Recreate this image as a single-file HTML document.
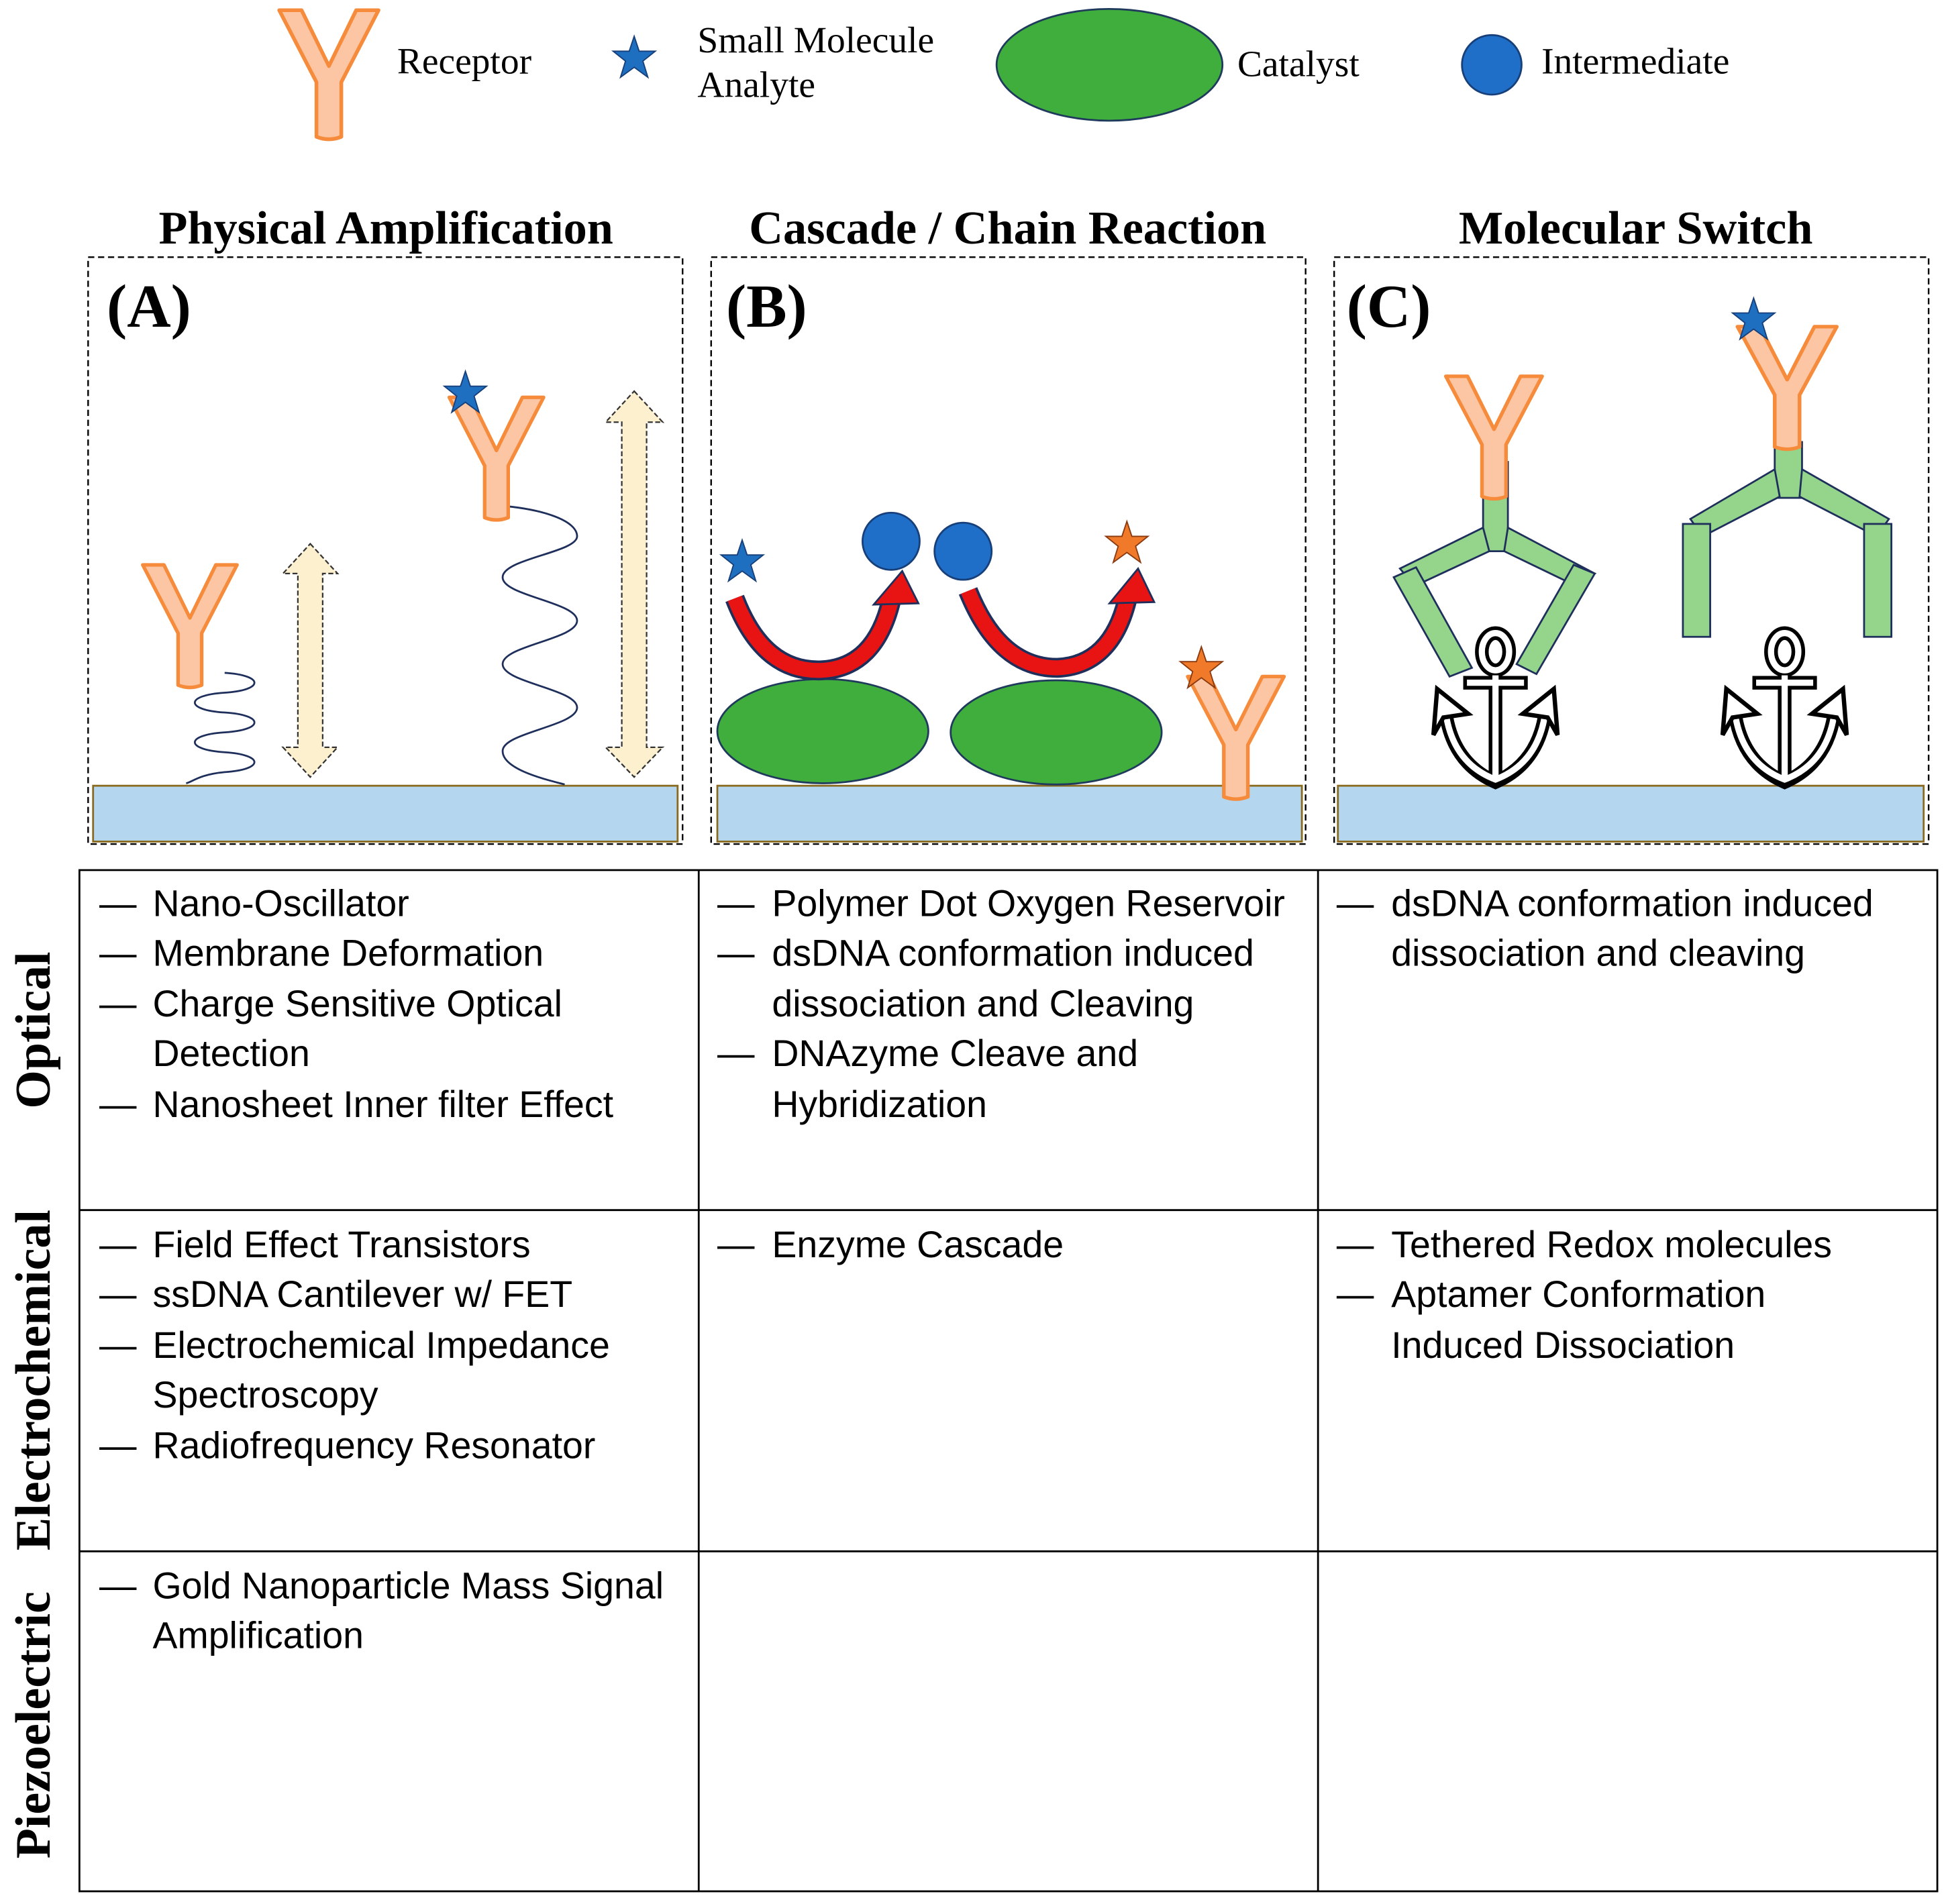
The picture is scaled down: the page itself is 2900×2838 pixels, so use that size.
<!DOCTYPE html>
<html><head><meta charset="utf-8"><style>
html,body{margin:0;padding:0;background:#fff}
svg{display:block}
.ser{font-family:"Liberation Serif",serif}
.sans{font-family:"Liberation Sans",sans-serif;font-size:30px;fill:#000}
</style></head><body>
<svg width="2900" height="2838" viewBox="0 0 1568 1534" xmlns="http://www.w3.org/2000/svg">
<defs>
<path id="Y" d="M0,0 L18,0 L40,45 L62,0 L80,0 L50,58 L50,102 Q40,106 30,102 L30,58 Z" fill="#fcc5a3" stroke="#f58b3b" stroke-width="3" stroke-linejoin="round"/>
<polygon id="star" points="0,-17 4,-5 17,-5 7,3 11,16 0,8 -11,16 -7,3 -17,-5 -4,-5" stroke-width="1"/>
<g id="anchor">
<g fill="none" stroke="#000" stroke-width="11" stroke-linecap="butt">
<ellipse cx="0" cy="-45" rx="11" ry="15"/>
<path d="M0,-30 V58"/><path d="M-26,-20 H26"/>
<path d="M-40,5 Q-34,45 0,60 Q34,45 40,5"/>
</g>
<g fill="none" stroke="#fff" stroke-width="5">
<ellipse cx="0" cy="-45" rx="11" ry="15"/>
<path d="M0,-26 V56"/><path d="M-23,-20 H23"/>
<path d="M-40,5 Q-34,45 0,58 Q34,45 40,5"/>
</g>
<polygon points="-47,-15 -22,5 -42,8 -50,22" fill="#fff" stroke="#000" stroke-width="3.5"/>
<polygon points="47,-15 22,5 42,8 50,22" fill="#fff" stroke="#000" stroke-width="3.5"/>
</g>
</defs>

<!-- Legend -->
<use href="#Y" transform="translate(225,8)"/>
<text x="320" y="59" class="ser" font-size="30">Receptor</text>
<use href="#star" transform="translate(511,46)" fill="#1f6fc0" stroke="#173f7a"/>
<text x="562" y="42" class="ser" font-size="30">Small Molecule</text>
<text x="562" y="78" class="ser" font-size="30">Analyte</text>
<ellipse cx="894" cy="52" rx="91" ry="45" fill="#3fae3c" stroke="#1f3a5c" stroke-width="1.5"/>
<text x="997" y="61" class="ser" font-size="30">Catalyst</text>
<circle cx="1202" cy="52" r="24" fill="#1f6fc8" stroke="#173f7a" stroke-width="1.5"/>
<text x="1242" y="59" class="ser" font-size="30">Intermediate</text>

<!-- Titles -->
<g class="ser" font-size="38" font-weight="bold" text-anchor="middle">
<text x="311" y="196">Physical Amplification</text>
<text x="812" y="196">Cascade / Chain Reaction</text>
<text x="1318" y="196">Molecular Switch</text>
</g>

<!-- Panels -->
<g fill="none" stroke="#000" stroke-width="1.3" stroke-dasharray="5,3">
<rect x="71" y="207" width="479" height="473"/>
<rect x="573" y="207" width="479" height="473"/>
<rect x="1075" y="207" width="479" height="473"/>
</g>
<g class="ser" font-size="49" font-weight="bold">
<text x="86" y="263">(A)</text><text x="585" y="263">(B)</text><text x="1085" y="263">(C)</text>
</g>
<g fill="#b4d7ef" stroke="#8a6a1e" stroke-width="1.5">
<rect x="75" y="633" width="471" height="45"/>
<rect x="578" y="633" width="471" height="45"/>
<rect x="1078" y="633" width="472" height="45"/>
</g>

<!-- Panel A -->
<path d="M181,542 C213,544 213,556 181,558 C149,560 149,572 181,574 C213,576 213,588 181,590 C149,592 149,604 181,606 C213,608 213,620 181,622 C160,624 155,630 150,631" fill="none" stroke="#1f2f5c" stroke-width="1.5"/>
<use href="#Y" transform="translate(115,455) scale(0.95)"/>
<polygon points="250,438 272,462 260,462 260,602 272,602 250,626 228,602 240,602 240,462 228,462" fill="#fdf0cf" stroke="#333" stroke-width="1.2" stroke-dasharray="4,2"/>
<path d="M400,407 C440,410 465,420 465,432 C465,445 405,450 405,465 C405,480 465,485 465,500 C465,515 405,520 405,535 C405,550 465,555 465,570 C465,585 405,590 405,605 C405,620 440,628 455,632" fill="none" stroke="#1f2f5c" stroke-width="1.5"/>
<use href="#Y" transform="translate(362,320) scale(0.95)"/>
<use href="#star" transform="translate(375,316)" fill="#1f6fc0" stroke="#173f7a"/>
<polygon points="511,315 534,340 521,340 521,602 534,602 511,626 488,602 501,602 501,340 488,340" fill="#fdf0cf" stroke="#333" stroke-width="1.2" stroke-dasharray="4,2"/>

<!-- Panel B -->
<ellipse cx="663" cy="589" rx="85" ry="42" fill="#3fae3c" stroke="#1f3a5c" stroke-width="1.5"/>
<ellipse cx="851" cy="590" rx="85" ry="42" fill="#3fae3c" stroke="#1f3a5c" stroke-width="1.5"/>
<g fill="none" stroke-linecap="butt">
<path d="M592,482 Q615,542 662,540 Q705,538 718,484" stroke="#1f2f5c" stroke-width="16"/>
<path d="M592,482 Q615,542 662,540 Q705,538 718,484" stroke="#e81414" stroke-width="12"/>
<path d="M780,476 Q805,538 852,538 Q895,536 908,484" stroke="#1f2f5c" stroke-width="16"/>
<path d="M780,476 Q805,538 852,538 Q895,536 908,484" stroke="#e81414" stroke-width="12"/>
</g>
<polygon points="727,460 704,487 740,486" fill="#e81414" stroke="#1f2f5c" stroke-width="1.5"/>
<polygon points="917,458 894,486 930,485" fill="#e81414" stroke="#1f2f5c" stroke-width="1.5"/>
<use href="#star" transform="translate(598,452)" fill="#1f6fc0" stroke="#173f7a"/>
<circle cx="718" cy="436" r="23" fill="#1f6fc8" stroke="#173f7a" stroke-width="1.5"/>
<circle cx="776" cy="444" r="23" fill="#1f6fc8" stroke="#173f7a" stroke-width="1.5"/>
<use href="#star" transform="translate(908,437)" fill="#f07a2a" stroke="#8a3a10"/>
<use href="#Y" transform="translate(957,545) scale(0.97,0.95)"/>
<use href="#star" transform="translate(968,538)" fill="#f07a2a" stroke="#8a3a10"/>

<!-- Panel C -->
<g fill="#95d58b" stroke="#1f2f5c" stroke-width="1.5">
<polygon points="1195,372 1215,372 1215,444 1195,444"/>
<polygon points="1195,425 1200,444 1140,472 1128,458"/>
<polygon points="1215,425 1212,444 1270,472 1285,462"/>
<polygon points="1123,465 1141,457 1186,538 1168,545"/>
<polygon points="1285,462 1268,455 1222,535 1238,543"/>
<rect x="1430" y="356" width="22" height="45"/>
<polygon points="1430,378 1434,400 1372,432 1362,418"/>
<polygon points="1452,378 1450,400 1512,432 1522,418"/>
<rect x="1356" y="422" width="22" height="91"/>
<rect x="1502" y="422" width="22" height="91"/>
</g>
<use href="#Y" transform="translate(1165,303) scale(0.97,0.95)"/>
<use href="#Y" transform="translate(1400,263) scale(1,0.95)"/>
<use href="#star" transform="translate(1413,257)" fill="#1f6fc0" stroke="#173f7a"/>
<use href="#anchor" transform="translate(1205,570)"/>
<use href="#anchor" transform="translate(1438,570)"/>

<!-- Table -->
<g fill="none" stroke="#000" stroke-width="1.5">
<rect x="64" y="701" width="1497" height="823"/>
<line x1="563" y1="701" x2="563" y2="1524"/>
<line x1="1062" y1="701" x2="1062" y2="1524"/>
<line x1="64" y1="975" x2="1561" y2="975"/>
<line x1="64" y1="1250" x2="1561" y2="1250"/>
</g>
<g class="ser" font-size="40" font-weight="bold" text-anchor="middle">
<text transform="translate(40,830) rotate(-90)">Optical</text>
<text transform="translate(40,1112) rotate(-90)">Electrochemical</text>
<text transform="translate(40,1390) rotate(-90)">Piezoelectric</text>
</g>
<g class="sans">
<text x="80" y="738">—</text><text x="123" y="738">Nano-Oscillator</text>
<text x="80" y="778">—</text><text x="123" y="778">Membrane Deformation</text>
<text x="80" y="819">—</text><text x="123" y="819">Charge Sensitive Optical</text>
<text x="123" y="859">Detection</text>
<text x="80" y="900">—</text><text x="123" y="900">Nanosheet Inner filter Effect</text>

<text x="578" y="738">—</text><text x="622" y="738">Polymer Dot Oxygen Reservoir</text>
<text x="578" y="778">—</text><text x="622" y="778">dsDNA conformation induced</text>
<text x="622" y="819">dissociation and Cleaving</text>
<text x="578" y="859">—</text><text x="622" y="859">DNAzyme Cleave and</text>
<text x="622" y="900">Hybridization</text>

<text x="1077" y="738">—</text><text x="1121" y="738">dsDNA conformation induced</text>
<text x="1121" y="778">dissociation and cleaving</text>

<text x="80" y="1013">—</text><text x="123" y="1013">Field Effect Transistors</text>
<text x="80" y="1053">—</text><text x="123" y="1053">ssDNA Cantilever w/ FET</text>
<text x="80" y="1094">—</text><text x="123" y="1094">Electrochemical Impedance</text>
<text x="123" y="1134">Spectroscopy</text>
<text x="80" y="1175">—</text><text x="123" y="1175">Radiofrequency Resonator</text>

<text x="578" y="1013">—</text><text x="622" y="1013">Enzyme Cascade</text>

<text x="1077" y="1013">—</text><text x="1121" y="1013">Tethered Redox molecules</text>
<text x="1077" y="1053">—</text><text x="1121" y="1053">Aptamer Conformation</text>
<text x="1121" y="1094">Induced Dissociation</text>

<text x="80" y="1288">—</text><text x="123" y="1288">Gold Nanoparticle Mass Signal</text>
<text x="123" y="1328">Amplification</text>
</g>
</svg>
</body></html>
